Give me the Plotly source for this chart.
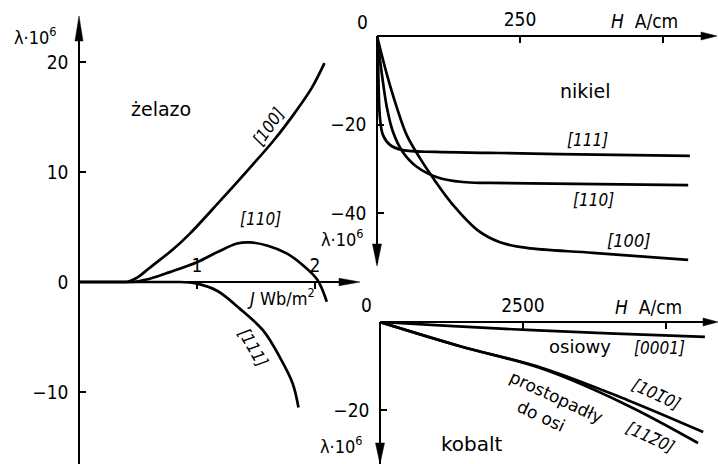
import plotly.graph_objects as go

W, H = 718, 464

# --- żelazo: lambda*10^6 against J [Wb/m^2]
fe_J_100 = [0.0, 0.41, 0.50, 0.60, 0.80, 0.94, 1.19, 1.45, 1.66, 1.83, 1.97, 2.08]
fe_L_100 = [0.0, 0.0, 0.45, 1.3, 3.0, 4.4, 7.3, 10.4, 13.0, 15.4, 17.6, 19.9]
fe_J_110 = [0.0, 0.46, 0.60, 0.77, 1.00, 1.17, 1.34, 1.45, 1.60, 1.76, 1.90, 2.02, 2.10]
fe_L_110 = [0.0, 0.0, 0.3, 0.9, 1.8, 2.7, 3.5, 3.6, 3.3, 2.6, 1.5, 0.2, -1.8]
fe_J_111 = [0.0, 0.85, 1.00, 1.17, 1.36, 1.56, 1.70, 1.81, 1.86]
fe_L_111 = [0.0, 0.0, -0.15, -0.8, -2.4, -4.4, -6.8, -9.2, -11.4]

# --- nikiel: lambda*10^6 against H [A/cm]
ni_H_111 = [0, 1.7, 5.2, 10.5, 22.7, 45, 103, 198, 318, 547]
ni_L_111 = [0, -5.4, -18.5, -22.4, -24.6, -25.8, -26.2, -26.4, -26.7, -27.1]
ni_H_110 = [0, 8.7, 17.5, 28, 45, 70, 105, 150, 198, 544]
ni_L_110 = [0, -8.8, -16.3, -21.7, -26.2, -29.6, -31.9, -33.0, -33.2, -33.7]
ni_H_100 = [0, 17.5, 35, 52, 75, 98, 133, 175, 215, 262, 377, 544]
ni_L_100 = [0, -8.8, -16.3, -22.4, -27.6, -32.1, -38.2, -43.8, -46.6, -47.9, -49.0, -50.6]

# --- kobalt: lambda*10^6 against H [A/cm]
co_H_0001 = [0, 1200, 2570, 4000, 5680]
co_L_0001 = [0, -0.9, -1.8, -2.6, -3.4]
co_H_1010 = [0, 1400, 2850, 4320, 5650]
co_L_1010 = [0, -5.5, -10.5, -17.7, -25.0]
co_H_1120 = [0, 1400, 2850, 4320, 5560]
co_L_1120 = [0, -5.5, -10.7, -18.9, -27.5]

# tick values / labels (unlabelled ticks drawn as minor ticks)
fe_xticks, fe_xlabels, fe_xminor = [1, 2], ["1", "2"], []
fe_yticks, fe_ylabels = [-10, 0, 10, 20], ["\u221210", "0", "10", "20"]
ni_xticks, ni_xlabels, ni_xminor = [250], ["250"], [500]
ni_yticks, ni_ylabels = [-20, -40], ["\u221220", "\u221240"]
co_xticks, co_xlabels, co_xminor = [2500], ["2500"], [5000]
co_yticks, co_ylabels = [-20], ["\u221220"]

NUM_FONT = "DejaVu Sans Condensed, DejaVu Sans"
TXT_FONT = "DejaVu Sans"
INK = "black"


def px(x):
    return x / W


def py(y):
    return 1 - y / H


fig = go.Figure()

LW = 2.7


def add_curve(xs, ys, xa, ya):
    # leading run on the axis (value 0) is straight, the rest is a smooth curve
    k = 0
    while k + 1 < len(ys) and ys[k + 1] == 0:
        k += 1
    if k > 0:
        fig.add_trace(go.Scatter(x=xs[:k + 1], y=ys[:k + 1], mode="lines",
                                 line=dict(color=INK, width=LW),
                                 xaxis=xa, yaxis=ya, hoverinfo="skip"))
    fig.add_trace(go.Scatter(x=xs[k:], y=ys[k:], mode="lines",
                             line=dict(color=INK, width=LW, shape="spline", smoothing=1.0),
                             xaxis=xa, yaxis=ya, hoverinfo="skip"))


for xs, ys in [(fe_J_100, fe_L_100), (fe_J_110, fe_L_110), (fe_J_111, fe_L_111)]:
    add_curve(xs, ys, "x", "y")
for xs, ys in [(ni_H_111, ni_L_111), (ni_H_110, ni_L_110), (ni_H_100, ni_L_100)]:
    add_curve(xs, ys, "x2", "y2")
for xs, ys in [(co_H_0001, co_L_0001), (co_H_1010, co_L_1010), (co_H_1120, co_L_1120)]:
    add_curve(xs, ys, "x3", "y3")


def xax(x0, x1, y_line, origin_px, scale, tickvals, ticktext, minor):
    d = dict(domain=[px(x0), px(x1)], range=[(x0 - origin_px) / scale, (x1 - origin_px) / scale],
             anchor="free", position=py(y_line), side="top",
             showline=True, linecolor=INK, linewidth=1.5, showgrid=False, zeroline=False,
             ticks="inside", ticklen=6, tickwidth=1.5, tickcolor=INK,
             tickvals=tickvals, ticktext=ticktext,
             tickfont=dict(family=NUM_FONT, size=19, color=INK), ticklabelstandoff=2)
    if minor:
        d["minor"] = dict(tickvals=minor, ticks="inside", ticklen=6, tickwidth=1.5,
                          tickcolor=INK, showgrid=False)
    return d


def yax(y_top, y_bot, x_line, origin_px, scale, tickvals, ticktext):
    return dict(domain=[py(y_bot), py(y_top)], range=[(origin_px - y_bot) / scale, (origin_px - y_top) / scale],
                anchor="free", position=px(x_line), side="left",
                showline=True, linecolor=INK, linewidth=1.5, showgrid=False, zeroline=False,
                ticks="inside", ticklen=6, tickwidth=1.5, tickcolor=INK,
                tickvals=tickvals, ticktext=ticktext,
                tickfont=dict(family=NUM_FONT, size=19, color=INK), ticklabelstandoff=6)


fig.update_layout(
    width=W, height=H, margin=dict(l=0, r=0, t=0, b=0),
    paper_bgcolor="white", plot_bgcolor="white", showlegend=False,
    xaxis=xax(79, 352, 282, 79, 118, fe_xticks, fe_xlabels, fe_xminor),
    yaxis=yax(25, 464, 79, 282, 11.0, fe_yticks, fe_ylabels),
    xaxis2=xax(377, 710, 36, 377, 0.572, ni_xticks, ni_xlabels, ni_xminor),
    yaxis2=yax(36, 263, 377, 36, 4.425, ni_yticks, ni_ylabels),
    xaxis3=xax(380, 710, 322, 380, 0.0572, co_xticks, co_xlabels, co_xminor),
    yaxis3=yax(322, 464, 380, 322, 4.4, co_yticks, co_ylabels),
)


# arrowheads at the axis ends
def arrow(tx, ty, bx, by, half):
    dx, dy = tx - bx, ty - by
    n = (dx * dx + dy * dy) ** 0.5
    nx, ny = -dy / n * half, dx / n * half
    pts = [(tx, ty), (bx + nx, by + ny), (bx - nx, by - ny)]
    path = "M " + " L ".join(f"{px(a):.5f},{py(b):.5f}" for a, b in pts) + " Z"
    return dict(type="path", path=path, xref="paper", yref="paper",
                fillcolor=INK, line=dict(color=INK, width=0.5))


fig.update_layout(shapes=[
    arrow(79, 16, 79, 41, 4),
    arrow(360, 282, 339, 282, 3.8),
    arrow(717, 36, 701, 36, 4),
    arrow(377, 266, 377, 244, 4.5),
    arrow(718, 322, 703, 322, 4),
    arrow(380, 464, 380, 443, 4.5),
])

ann = []


def lab(text, x, y, size=19, angle=0, family=TXT_FONT):
    ann.append(dict(text=text, x=px(x), y=py(y), xref="paper", yref="paper",
                    showarrow=False, textangle=angle, xanchor="center", yanchor="middle",
                    font=dict(family=family, size=size, color=INK)))


LAM = "\u03bb\u00b710<sup>6</sup>"
# żelazo
lab(LAM, 35, 36, 18, family=NUM_FONT)
lab("\u017celazo", 161, 109, 19)
lab("<i>[100]</i>", 268, 127, 17, -55, NUM_FONT)
lab("<i>[110]</i>", 260, 219, 17, 0, NUM_FONT)
lab("<i>[111]</i>", 253, 347, 17, 60, NUM_FONT)
lab("<i>J</i> Wb/m<sup>2</sup>", 281, 297, 18, family=NUM_FONT)
# nikiel
lab("0", 362, 22, 19, family=NUM_FONT)
lab("<i>H</i>  A/cm", 644, 21, 19, family=NUM_FONT)
lab("nikiel", 585, 91, 19)
lab("<i>[111]</i>", 587, 140, 17, 0, NUM_FONT)
lab("<i>[110]</i>", 593, 200, 17, 0, NUM_FONT)
lab("<i>[100]</i>", 629, 240, 18, 0, NUM_FONT)
lab(LAM, 342, 238, 18, family=NUM_FONT)
# kobalt
lab("0", 366, 305, 19, family=NUM_FONT)
lab("<i>H</i>  A/cm", 648, 307, 19, family=NUM_FONT)
lab("osiowy", 580, 346, 18)
lab("<i>[0001]</i>", 659, 348, 17, 0, NUM_FONT)
lab("prostopadły", 556, 397, 17, 25)
lab("do osi", 541, 416, 17, 25)
lab("<i>[101\u03050]</i>", 656, 394, 17, 25, NUM_FONT)
lab("<i>[112\u03050]</i>", 650, 437, 17, 25, NUM_FONT)
lab("kobalt", 472, 444, 20)
lab(LAM, 341, 445, 18, family=NUM_FONT)

fig.update_layout(annotations=ann)

fig.write_html("out.html")
